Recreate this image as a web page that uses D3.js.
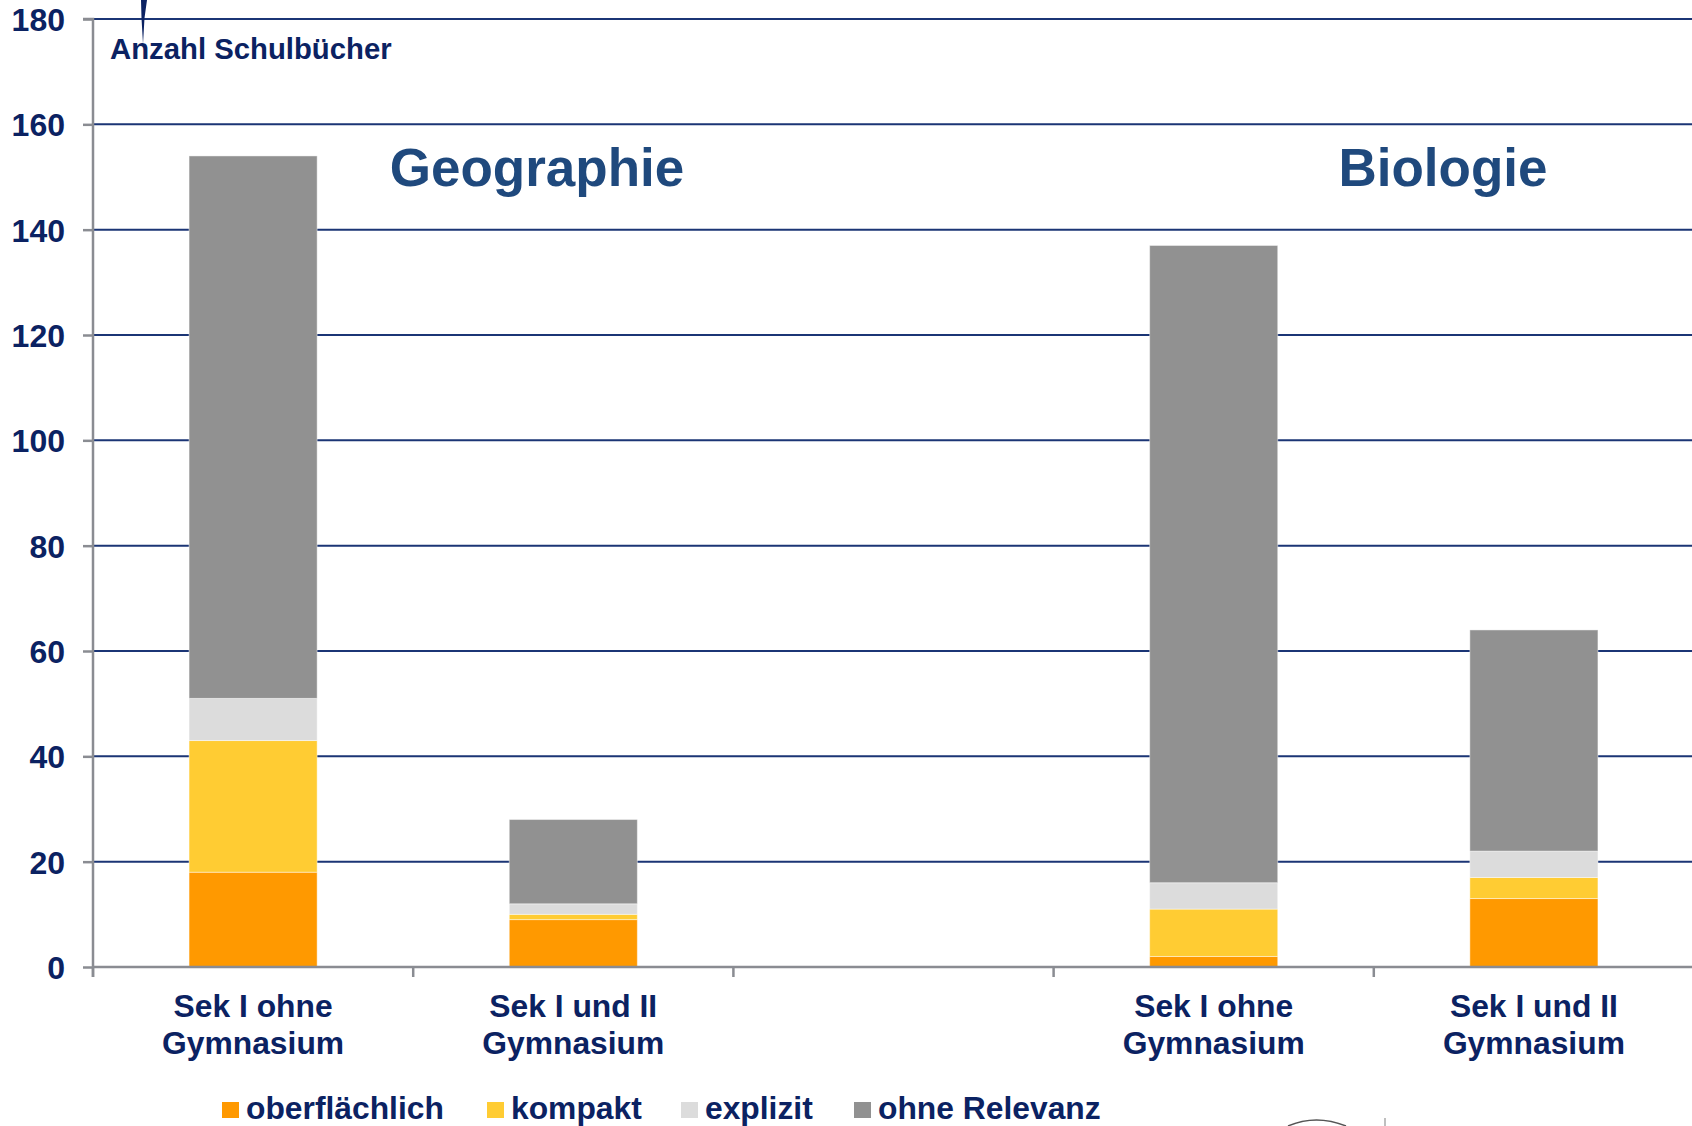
<!DOCTYPE html>
<html>
<head>
<meta charset="utf-8">
<script src="https://cdn.jsdelivr.net/npm/d3@7/dist/d3.min.js"></script>
<style>
  html, body { margin: 0; padding: 0; background: #ffffff; }
  svg { display: block; font-family: "Liberation Sans", Arial, sans-serif; font-weight: bold; }
</style>
</head>
<body>
<svg id="chart" width="1692" height="1126"></svg>
<script>
// ---- data ----
const categories = ["geoSek1", "geoSek2", "gap", "bioSek1", "bioSek2"];
const categoryLabels = [["Sek I ohne", "Gymnasium"], ["Sek I und II", "Gymnasium"], [], ["Sek I ohne", "Gymnasium"], ["Sek I und II", "Gymnasium"]];
const seriesNames = ["oberflächlich", "kompakt", "explizit", "ohne Relevanz"];
const oberflaechlich = [18, 9, null, 2, 13];
const kompakt = [25, 1, null, 9, 4];
const explizit = [8, 2, null, 5, 5];
const ohneRelevanz = [103, 16, null, 121, 42];
const yTicks = [0, 20, 40, 60, 80, 100, 120, 140, 160, 180];
const groupTitles = ["Geographie", "Biologie"];
const yAxisTitle = "Anzahl Schulbücher";

(function () {
// ---- styles ----
const colors = ["#FF9900", "#FFCC33", "#DCDCDC", "#919191"];
const navy = "#0B2262";
const titleBlue = "#1F497D";
const gridColor = "#1B3575";
const axisGray = "#8A8C92";

const svg = d3.select("#chart");
const W = 1692, H = 1126;
const mLeft = 93, mRight = 1694, mTop = 19, mBottom = 967;

const x = d3.scaleBand().domain(categories).range([mLeft, mRight]).paddingInner(0.6).paddingOuter(0.3);
const y = d3.scaleLinear().domain([0, 180]).range([mBottom, mTop]);

// gridlines
svg.append("g").selectAll("line").data(yTicks.filter(d => d > 0)).join("line")
  .attr("x1", mLeft).attr("x2", W)
  .attr("y1", d => y(d)).attr("y2", d => y(d))
  .attr("stroke", gridColor).attr("stroke-width", 2);

// stacked bars
const rows = categories.map((c, i) => ({
  cat: c,
  oberflaechlich: oberflaechlich[i] || 0,
  kompakt: kompakt[i] || 0,
  explizit: explizit[i] || 0,
  ohne: ohneRelevanz[i] || 0,
  empty: oberflaechlich[i] == null
}));
const keys = ["oberflaechlich", "kompakt", "explizit", "ohne"];
const stacked = d3.stack().keys(keys)(rows);
svg.append("g").selectAll("g").data(stacked).join("g")
  .attr("fill", (d, i) => colors[i])
  .selectAll("rect").data(d => d.filter(p => !p.data.empty && p[1] > p[0])).join("rect")
  .attr("x", d => x(d.data.cat))
  .attr("width", x.bandwidth())
  .attr("y", d => y(d[1]))
  .attr("height", d => y(d[0]) - y(d[1]))
  .attr("stroke", "rgba(255,255,255,0.45)")
  .attr("stroke-width", 1);

// y axis
const yAxis = svg.append("g").attr("transform", `translate(${mLeft},0)`)
  .call(d3.axisLeft(y).tickValues(yTicks).tickSize(10).tickPadding(18).tickFormat(d3.format("d")));
yAxis.select(".domain").attr("stroke", axisGray).attr("stroke-width", 2.5)
  .attr("d", `M-10,${mTop}H0V${mBottom + 10}`);
yAxis.selectAll(".tick line").attr("stroke", axisGray).attr("stroke-width", 2.5);
yAxis.selectAll(".tick text").attr("fill", navy).attr("font-size", 32)
  .attr("font-family", "'Liberation Sans', Arial, sans-serif").attr("font-weight", "bold")
  .attr("dy", "0.36em");

// x axis baseline and ticks
svg.append("line").attr("x1", mLeft).attr("x2", W).attr("y1", mBottom).attr("y2", mBottom)
  .attr("stroke", axisGray).attr("stroke-width", 2.5);
const boundaries = categories.map(c => x(c) - x.step() * x.paddingOuter());
svg.append("g").selectAll("line").data(boundaries).join("line")
  .attr("x1", d => d).attr("x2", d => d).attr("y1", mBottom).attr("y2", mBottom + 10)
  .attr("stroke", axisGray).attr("stroke-width", 2.5);

// x labels
const xl = svg.append("g").selectAll("text").data(categories).join("text")
  .attr("x", d => x(d) + x.bandwidth() / 2)
  .attr("y", 1017)
  .attr("text-anchor", "middle")
  .attr("fill", navy).attr("font-size", 31.8);
xl.each(function(d, i) {
  const t = d3.select(this);
  categoryLabels[i].forEach((line, j) => {
    t.append("tspan").attr("x", x(d) + x.bandwidth() / 2).attr("dy", j === 0 ? 0 : 37).text(line);
  });
});

// group titles
svg.append("text").attr("x", 537).attr("y", 186).attr("text-anchor", "middle")
  .attr("fill", titleBlue).attr("font-size", 53).text(groupTitles[0]);
svg.append("text").attr("x", 1443).attr("y", 186).attr("text-anchor", "middle")
  .attr("fill", titleBlue).attr("font-size", 53).text(groupTitles[1]);

// axis title
svg.append("text").attr("x", 110).attr("y", 59).attr("fill", navy).attr("font-size", 29.3).text(yAxisTitle);

// small stray stroke at top-left (from the source graphic)
svg.append("path").attr("d", "M141,0 L147,0 L144.5,18 L143,44 L141.5,18 Z").attr("fill", navy);

// legend
const legendX = [222, 487, 681, 854];
const lg = svg.append("g").selectAll("g").data(seriesNames).join("g")
  .attr("transform", (d, i) => `translate(${legendX[i]},0)`);
lg.append("rect").attr("x", 0).attr("y", 1102).attr("width", 17).attr("height", 16).attr("fill", (d, i) => colors[i]);
lg.append("text").attr("x", 24).attr("y", 1119).attr("fill", navy).attr("font-size", 31.8).text(d => d);

// partial logo fragment at the bottom edge
svg.append("path").attr("d", "M1288,1126 Q1316,1114 1346,1126").attr("fill", "none").attr("stroke", "#555").attr("stroke-width", 1.5);
svg.append("line").attr("x1", 1385).attr("x2", 1385).attr("y1", 1118).attr("y2", 1126).attr("stroke", "#aaa").attr("stroke-width", 1.5);
})();
</script>
</body>
</html>
